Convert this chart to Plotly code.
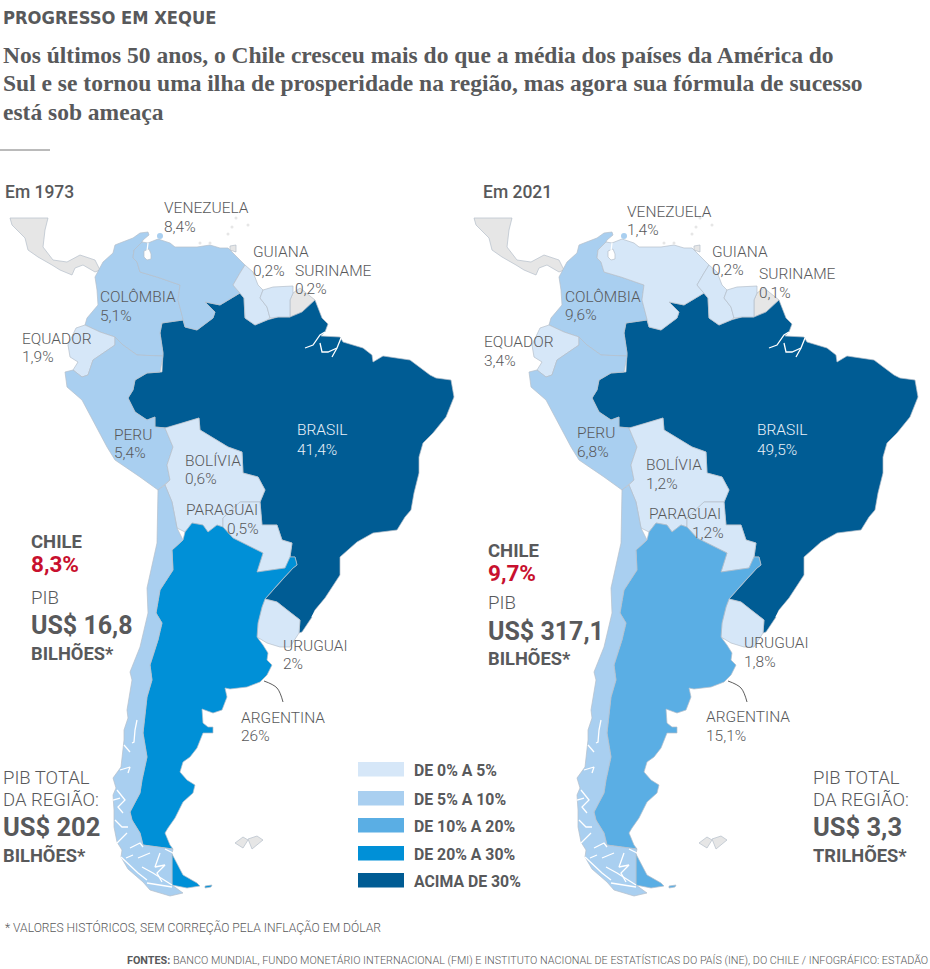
import plotly.graph_objects as go

# country outlines (map units, y grows downwards)
brasil = [(162,323),(183,320),(185,327),(197,330),(213,318),(215,312),(205,302),(220,305),(240,293),(244,298),(245,318),(255,325),(267,320),(278,317),(290,317),(302,312),(315,300),(322,318),(328,324),(325,332),(321,336),(340,337),(343,342),(363,348),(372,355),(373,362),(383,356),(410,360),(430,375),(436,378),(451,380),(454,397),(446,417),(433,433),(423,443),(419,457),(419,473),(414,493),(411,510),(405,517),(397,530),(373,533),(357,542),(340,557),(340,575),(330,590),(325,598),(315,610),(312,617),(302,632),(299,633),(300,620),(287,610),(277,602),(265,599),(280,582),(293,568),(297,565),(295,557),(290,557),(292,543),(282,540),(277,525),(262,525),(260,502),(265,490),(258,477),(243,473),(242,452),(228,447),(200,430),(199,418),(183,423),(167,428),(155,427),(155,417),(147,420),(135,412),(128,398),(133,390),(135,380),(147,373),(162,372),(163,353),(160,333)]
colombia = [(95,277),(103,262),(113,253),(115,245),(120,243),(133,238),(140,233),(148,232),(149,235),(143,240),(142,242),(134,250),(133,258),(137,262),(140,272),(157,277),(180,285),(178,300),(183,318),(183,320),(162,323),(160,333),(163,353),(163,356),(157,356),(137,355),(123,345),(115,337),(100,332),(85,325),(87,318),(98,305),(97,290)]
venezuela = [(142,242),(148,243),(158,239),(170,243),(175,247),(197,247),(210,245),(220,248),(228,248),(237,257),(245,265),(240,273),(233,285),(240,293),(220,305),(205,302),(215,312),(213,318),(197,330),(185,327),(183,320),(183,318),(178,300),(180,285),(157,277),(140,272),(137,262),(133,258),(134,250)]
equador = [(76,328),(85,325),(100,332),(115,337),(115,345),(103,353),(93,360),(88,375),(82,377),(73,370),(78,362),(70,357),(68,345)]
peru = [(65,372),(73,370),(82,377),(88,375),(93,360),(103,353),(115,345),(115,337),(123,345),(137,355),(157,356),(163,356),(160,372),(147,373),(135,380),(133,390),(128,398),(135,412),(147,420),(155,417),(155,427),(165,428),(173,447),(167,465),(170,480),(158,490),(140,477),(115,460),(107,447),(93,420),(82,400),(67,387)]
bolivia = [(165,428),(183,423),(199,418),(200,430),(228,447),(242,452),(243,473),(258,477),(265,490),(260,502),(240,502),(223,518),(223,527),(217,525),(208,532),(203,525),(192,523),(185,532),(177,528),(172,502),(165,485),(170,480),(167,465),(173,447)]
paraguai = [(223,518),(240,502),(260,502),(262,525),(277,525),(282,540),(292,543),(290,557),(285,568),(257,572),(263,553),(253,548),(233,538),(223,527)]
uruguai = [(265,599),(277,602),(287,610),(300,620),(299,633),(290,647),(280,647),(267,643),(257,637),(258,623),(262,607)]
argentina = [(185,532),(192,523),(203,525),(208,532),(217,525),(223,527),(233,538),(253,548),(263,553),(257,572),(285,568),(290,557),(295,557),(297,565),(293,568),(280,582),(265,599),(262,607),(258,623),(257,637),(263,645),(268,653),(267,660),(272,665),(267,675),(260,682),(247,687),(230,689),(225,688),(227,697),(222,710),(213,713),(202,709),(203,723),(208,727),(213,727),(213,733),(203,733),(197,748),(190,757),(183,762),(180,772),(187,780),(195,785),(193,793),(183,802),(175,818),(168,828),(165,833),(170,845),(173,849),(143,845),(140,833),(132,820),(130,812),(140,793),(142,780),(147,757),(143,733),(147,697),(152,680),(150,665),(158,640),(162,623),(156,613),(160,590),(173,570),(172,550),(183,540)]
argentina_sul = [(172,854),(183,875),(197,883),(200,886),(187,888),(172,885)]
argentina_ilha = [(205,886),(212,885),(211,887),(205,888)]
chile = [(158,490),(165,485),(172,502),(177,528),(183,540),(172,550),(173,570),(160,590),(156,613),(162,623),(158,640),(150,665),(152,680),(147,697),(143,733),(147,757),(142,780),(140,793),(130,812),(132,820),(140,833),(143,845),(173,849),(172,854),(172,885),(183,893),(170,896),(150,890),(143,882),(128,869),(121,857),(122,850),(117,842),(114,827),(114,810),(113,795),(116,788),(113,778),(121,767),(123,752),(124,740),(124,730),(128,718),(127,710),(132,680),(130,672),(140,647),(148,613),(147,588),(157,543)]
guiana = [(245,265),(253,272),(258,285),(263,290),(260,298),(267,307),(270,318),(267,320),(255,325),(245,318),(244,298),(240,293),(233,285),(240,273)]
suriname = [(263,290),(273,287),(293,286),(293,293),(290,300),(290,317),(278,317),(270,318),(267,307),(260,298)]
guiana_francesa = [(293,293),(300,288),(315,300),(302,312),(290,317),(290,300)]
america_central = [(10,218),(48,218),(45,230),(43,247),(53,260),(67,262),(80,255),(95,260),(100,270),(95,272),(83,265),(75,268),(72,275),(60,270),(52,265),(38,257),(28,250),(25,238),(12,225)]
malvinas_oeste = [(235,843),(243,837),(248,840),(243,848)]
malvinas_leste = [(248,839),(257,836),(263,840),(252,849)]
trinidad = [(230,246),(236,245),(236,252),(230,250)]
lago_maracaibo = [(144,251),(149,249),(151,254),(151,259),(147,260),(144,257)]
marajo_canais = [[(325,332),(320,335),(313,345),(305,348)],[(320,343),(322,352),(328,352),(337,348)],[(341,338),(337,348),(332,357)]]
maracaibo_canal = [(147,251),(148,243)]
patos = [(325,600),(315,612),(312,617)]
fjords = [[(137,720),(135,730),(134,742),(132,743)],[(120,770),(130,767),(128,773)],[(124,745),(130,752)],
          [(117,790),(125,800),(118,807),(123,813)],[(113,800),(120,798)],[(115,820),(122,827),(128,827)],[(117,843),(127,833)],
          [(121,857),(138,873),(147,880)],[(130,848),(140,843),(143,847)],[(138,858),(150,853)],
          [(142,867),(153,873),(172,885)],[(160,853),(155,867),(165,865),(157,873),(162,882)],
          [(147,883),(158,885),(172,887)],[(165,849),(173,853)],[(126,858),(133,855)]]
ilhas = [(200,243),(210,243),(228,234),(232,227),(236,218),(248,225)]
curacao = [(160,236)]
linha_argentina = [(264,681),(277,688),(283,702)]

countries = ["Brasil", "Colômbia", "Venezuela", "Equador", "Peru", "Bolívia", "Paraguai", "Uruguai", "Argentina", "Chile", "Guiana", "Suriname"]
outlines = [[brasil], [colombia], [venezuela], [equador], [peru], [bolivia], [paraguai], [uruguai], [argentina, argentina_sul, argentina_ilha], [chile], [guiana], [suriname]]
share_1973 = [41.4, 5.1, 8.4, 1.9, 5.4, 0.6, 0.5, 2, 26, 8.3, 0.2, 0.2]
share_2021 = [49.5, 9.6, 1.4, 3.4, 6.8, 1.2, 1.2, 1.8, 15.1, 9.7, 0.2, 0.1]

legend_labels = ["DE 0% A 5%", "DE 5% A 10%", "DE 10% A 20%", "DE 20% A 30%", "ACIMA DE 30%"]
legend_limits = [5, 10, 20, 30, 1000]
legend_colors = ["#d6e7f8", "#a9cff0", "#5aaee4", "#0090d7", "#005c94"]

GREY = "#58595b"
RED = "#c8102e"
BORDER = "#b4bfca"
LAND = "#e6e6e6"
LIGHT = "Roboto"
CONDENSED = "DejaVu Sans Condensed, Roboto"


def bin_color(value):
    for limit, color in zip(legend_limits, legend_colors):
        if value < limit:
            return color


def poly(points, color, axis, line=BORDER, width=0.7):
    return go.Scatter(x=[p[0] for p in points] + [points[0][0]],
                      y=[p[1] for p in points] + [points[0][1]],
                      mode="lines", fill="toself", fillcolor=color,
                      line=dict(color=line, width=width),
                      xaxis="x" + axis, yaxis="y" + axis,
                      hoverinfo="skip", showlegend=False)


def open_line(points, color, axis, width=1.3, shape="linear"):
    return go.Scatter(x=[p[0] for p in points], y=[p[1] for p in points],
                      mode="lines", line=dict(color=color, width=width, shape=shape),
                      xaxis="x" + axis, yaxis="y" + axis,
                      hoverinfo="skip", showlegend=False)


def dots(points, color, size, axis):
    return go.Scatter(x=[p[0] for p in points], y=[p[1] for p in points], mode="markers",
                      marker=dict(color=color, size=size), xaxis="x" + axis, yaxis="y" + axis,
                      hoverinfo="skip", showlegend=False)


fig = go.Figure()

for axis, shares in [("", share_1973), ("2", share_2021)]:
    for shape in [america_central, guiana_francesa, malvinas_oeste, malvinas_leste, trinidad]:
        fig.add_trace(poly(shape, LAND, axis))
    for shapes, share in zip(outlines, shares):
        for shape in shapes:
            fig.add_trace(poly(shape, bin_color(share), axis))
    fig.add_trace(poly(lago_maracaibo, "white", axis))
    for channel in marajo_canais + fjords + [patos, maracaibo_canal]:
        fig.add_trace(open_line(channel, "white", axis))
    fig.add_trace(dots(ilhas, LAND, 3, axis))
    fig.add_trace(dots(curacao, legend_colors[1], 6, axis))
    fig.add_trace(open_line(linha_argentina, "#333333", axis, width=0.8, shape="spline"))


def note(x, y, text, size=15.5, color=GREY, family=LIGHT, weight=300, anchor="left"):
    fig.add_annotation(x=x / 930, y=1 - y / 969, xref="paper", yref="paper", text=text,
                       showarrow=False, xanchor=anchor, yanchor="middle", align=anchor,
                       borderpad=0, font=dict(size=size, color=color, family=family, weight=weight))


def chile_share(x, y, value):
    # name and share as one block, the base size sets the line gap
    note(x, y, f'<span style="font-size:18.5px">CHILE</span><br><span style="font-size:22.5px;color:{RED}">{value}</span>',
         size=18.5, weight=700)


# heading
note(2, 17, "PROGRESSO EM XEQUE", size=18.2, family=CONDENSED, weight=700)
note(2, 55, "Nos últimos 50 anos, o Chile cresceu mais do que a média dos países da América do", size=23.5, family="Liberation Serif", weight=700)
note(2, 83, "Sul e se tornou uma ilha de prosperidade na região, mas agora sua fórmula de sucesso", size=23.5, family="Liberation Serif", weight=700)
note(2, 112, "está sob ameaça", size=23.5, family="Liberation Serif", weight=700)
note(4, 192, "Em 1973", size=17.5, family=LIGHT, weight=500)
note(482, 192, "Em 2021", size=17.5, family=LIGHT, weight=500)

# country labels
labels_1973 = [(163,208,"VENEZUELA"),(163,227,"8,4%"),(252,252,"GUIANA"),(252,271,"0,2%"),(294,271,"SURINAME"),(294,289,"0,2%"),
               (99,297,"COLÔMBIA"),(99,316,"5,1%"),(21,339,"EQUADOR"),(21,357,"1,9%"),(113,435,"PERU"),(113,453,"5,4%"),
               (184,461,"BOLÍVIA"),(184,479,"0,6%"),(185,510,"PARAGUAI"),(226,529,"0,5%"),(282,646,"URUGUAI"),(282,664,"2%"),
               (240,718,"ARGENTINA"),(240,736,"26%")]
labels_2021 = [(626,212,"VENEZUELA"),(626,230,"1,4%"),(711,252,"GUIANA"),(711,270,"0,2%"),(758,274,"SURINAME"),(758,293,"0,1%"),
               (564,297,"COLÔMBIA"),(564,315,"9,6%"),(483,342,"EQUADOR"),(483,361,"3,4%"),(576,433,"PERU"),(576,452,"6,8%"),
               (645,465,"BOLÍVIA"),(645,484,"1,2%"),(648,514,"PARAGUAI"),(691,533,"1,2%"),(743,643,"URUGUAI"),(743,662,"1,8%"),
               (705,717,"ARGENTINA"),(705,736,"15,1%")]
for x, y, text in labels_1973 + labels_2021:
    note(x, y, text)
for x, y, text in [(296,430,"BRASIL"),(296,450,"41,4%"),(756,430,"BRASIL"),(756,450,"49,5%")]:
    note(x, y, text, color="#e8f0f8")

# chile panels
chile_share(30, 554, "8,3%")
note(30, 598, "PIB", size=18.7)
note(30, 625, "US$ 16,8", size=25, weight=700)
note(30, 653, "BILHÕES*", size=18.3, weight=700)
chile_share(487, 563, "9,7%")
note(487, 603, "PIB", size=18.7)
note(487, 631, "US$ 317,1", size=25, weight=700)
note(487, 658, "BILHÕES*", size=18.3, weight=700)

# region totals
note(2, 778, "PIB TOTAL", size=18.5)
note(2, 800, "DA REGIÃO:", size=18.5)
note(2, 827, "US$ 202", size=25.5, weight=700)
note(2, 855, "BILHÕES*", size=18.3, weight=700)
note(812, 778, "PIB TOTAL", size=18.5)
note(812, 800, "DA REGIÃO:", size=18.5)
note(812, 827, "US$ 3,3", size=25.5, weight=700)
note(812, 855, "TRILHÕES*", size=18.3, weight=700)

# legend
legend_top = [762, 791, 818, 846, 873]
for top, label, color in zip(legend_top, legend_labels, legend_colors):
    fig.add_shape(type="rect", xref="paper", yref="paper", x0=358 / 930, x1=404 / 930,
                  y0=1 - top / 969, y1=1 - (top + 14.5) / 969, fillcolor=color, line_width=0)
    note(413, top + 8, label, size=15.8, weight=700)

# rule under the heading
fig.add_shape(type="line", xref="paper", yref="paper", x0=0, x1=50 / 930,
              y0=1 - 150 / 969, y1=1 - 150 / 969, line=dict(color="#777777", width=1))

# footers
note(4, 927, "* VALORES HISTÓRICOS, SEM CORREÇÃO PELA INFLAÇÃO EM DÓLAR", size=12.1)
note(929, 960, "<b>FONTES:</b> BANCO MUNDIAL, FUNDO MONETÁRIO INTERNACIONAL (FMI) E INSTITUTO NACIONAL DE ESTATÍSTICAS DO PAÍS (INE), DO CHILE / INFOGRÁFICO: ESTADÃO",
     size=10.8, weight=300, anchor="right")

hidden = dict(visible=False, fixedrange=True)
fig.update_layout(
    width=930, height=969, margin=dict(l=0, r=0, t=0, b=0),
    paper_bgcolor="white", plot_bgcolor="white", showlegend=False,
    xaxis=dict(domain=[0, 0.5], range=[0, 465], **hidden),
    yaxis=dict(domain=[0, 1], range=[969, 0], **hidden),
    xaxis2=dict(domain=[0.5, 1], range=[1, 466], **hidden),
    yaxis2=dict(domain=[0, 1], range=[969, 0], anchor="x2", **hidden),
)

# page margin off so the figure fills the window
fig.write_html("out.html", config={"displayModeBar": False}, post_script="document.body.style.margin='0';")
